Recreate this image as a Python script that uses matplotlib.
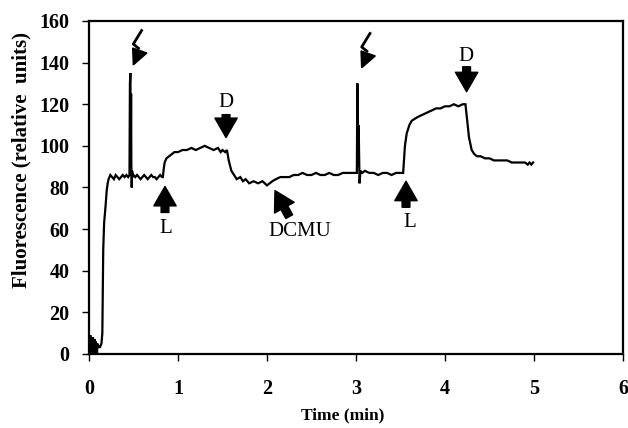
import matplotlib
matplotlib.use("Agg")
import matplotlib.pyplot as plt
from matplotlib.patches import Polygon

# ---- data ----
time_min = [0.000, 0.005, 0.010, 0.015, 0.020, 0.025, 0.030, 0.035, 0.040, 0.045,
            0.050, 0.055, 0.060, 0.065, 0.070, 0.075, 0.080, 0.085, 0.090, 0.095,
            0.100, 0.110, 0.120, 0.130, 0.140, 0.150, 0.160, 0.170, 0.186, 0.200,
            0.210, 0.220, 0.240, 0.260, 0.280, 0.300, 0.320, 0.340, 0.360, 0.380,
            0.400, 0.420, 0.440, 0.455, 0.460, 0.465, 0.470, 0.473, 0.476, 0.480,
            0.485, 0.490, 0.500, 0.520, 0.540, 0.560, 0.580, 0.600, 0.620, 0.640,
            0.660, 0.680, 0.700, 0.720, 0.740, 0.760, 0.780, 0.800, 0.820, 0.830,
            0.840, 0.850, 0.870, 0.900, 0.930, 0.960, 1.000, 1.050, 1.100, 1.150,
            1.200, 1.250, 1.300, 1.350, 1.400, 1.450, 1.480, 1.500, 1.530, 1.550,
            1.570, 1.600, 1.630, 1.660, 1.700, 1.730, 1.760, 1.800, 1.850, 1.900,
            1.950, 2.000, 2.030, 2.060, 2.100, 2.150, 2.200, 2.250, 2.300, 2.350,
            2.400, 2.450, 2.500, 2.550, 2.600, 2.650, 2.700, 2.750, 2.800, 2.850,
            2.900, 2.950, 3.000, 3.010, 3.015, 3.020, 3.025, 3.030, 3.040, 3.050,
            3.070, 3.100, 3.150, 3.200, 3.250, 3.300, 3.350, 3.400, 3.450, 3.500,
            3.530, 3.550, 3.570, 3.600, 3.625, 3.660, 3.700, 3.750, 3.800, 3.850,
            3.900, 3.950, 4.000, 4.050, 4.100, 4.150, 4.200, 4.230, 4.250, 4.270,
            4.300, 4.330, 4.360, 4.400, 4.450, 4.500, 4.550, 4.600, 4.650, 4.700,
            4.750, 4.800, 4.850, 4.900, 4.930, 4.950, 4.970, 4.990]
fluorescence = [0, 8, 0, 9, 1, 8, 0, 7, 2, 8,
                0, 6, 1, 7, 0, 6, 2, 5, 0, 5,
                3, 4, 3, 4, 5, 10, 50, 63, 71, 79,
                82, 84, 86, 85, 84, 86, 85, 84, 85, 86,
                85, 86, 85, 86, 130, 135, 100, 125, 90, 80,
                88, 85, 86, 85, 86, 85, 84, 85, 86, 85,
                84, 85, 86, 85, 85, 84, 85, 86, 85, 85,
                89, 92, 94, 95, 96, 97, 97, 98, 98, 99,
                98, 99, 100, 99, 98, 99, 97, 98, 97, 98,
                93, 88, 86, 84, 85, 83, 84, 82, 83, 82,
                83, 81, 82, 83, 84, 85, 85, 85, 86, 86,
                87, 86, 86, 87, 86, 86, 87, 86, 86, 87,
                87, 87, 87, 87, 130, 125, 90, 110, 82, 88,
                87, 88, 87, 87, 86, 87, 87, 86, 87, 87,
                87, 100, 106, 110, 112, 113, 114, 115, 116, 117,
                118, 118, 119, 119, 120, 119, 120, 120, 112, 104,
                98, 96, 95, 95, 94, 94, 93, 93, 93, 93,
                92, 92, 92, 92, 91, 92, 91, 92]

x_ticks = [0, 1, 2, 3, 4, 5, 6]
y_ticks = [0, 20, 40, 60, 80, 100, 120, 140, 160]

# annotations: (label, arrow tip x, tip y, tail x, tail y, text x, text y)
arrow_notes = [
    ("L", 0.854, 80.5, 0.854, 68.0, 0.86, 60.5),
    ("D", 1.540, 104.0, 1.540, 115.0, 1.54, 120.8),
    ("DCMU", 2.090, 78.5, 2.250, 66.0, 2.37, 59.0),
    ("L", 3.562, 83.0, 3.562, 70.5, 3.60, 63.0),
    ("D", 4.243, 126.0, 4.243, 138.0, 4.24, 143.0),
]
flash_marks = [(0.591, 155.4), (3.157, 154.0)]

# ---- figure ----
serif = ["Liberation Serif", "DejaVu Serif"]
fig = plt.figure(figsize=(6.28, 4.28), dpi=100)
ax = fig.add_axes([0.1417, 0.1729, 0.8503, 0.7781])

ax.plot(time_min, fluorescence, color="black", lw=1.6, solid_joinstyle="miter")

ax.set_xlim(0, 6)
ax.set_ylim(0, 160)
ax.set_xticks(x_ticks)
ax.set_yticks(y_ticks)
for s in ax.spines.values():
    s.set_linewidth(1.6)
ax.tick_params(direction="out", length=5, width=1.0)
ax.tick_params(axis="x", pad=13)
ax.tick_params(axis="y", pad=9)
for lab in ax.get_xticklabels() + ax.get_yticklabels():
    lab.set_fontfamily(serif)
    lab.set_fontweight("bold")
    lab.set_fontsize(14.5)
ax.set_xlabel("Time (min)", family=serif, fontweight="bold", fontsize=12.5, va="center")
ax.xaxis.set_label_coords(0.476, -0.183)
ax.set_ylabel("Fluorescence (relative  units)", family=serif, fontweight="bold",
              fontsize=15)
ax.yaxis.set_label_coords(-0.107, 0.583)

for label, tx, ty, sx, sy, lx, ly in arrow_notes:
    ax.annotate("", xy=(tx, ty), xytext=(sx, sy),
                arrowprops=dict(arrowstyle="simple,head_length=1.0,head_width=1.15,tail_width=0.4",
                                color="black", shrinkA=0, shrinkB=0, mutation_scale=14))
    ax.text(lx, ly, label, family=serif, fontsize=15, ha="center", va="center")

# flash (lightning) symbols
for fx, fy in flash_marks:
    ax.plot([fx, fx - 0.093, fx - 0.035], [fy, fy - 6.5, fy - 8.5], color="black", lw=2.0,
            clip_on=False)
    tri = Polygon([(fx - 0.10, fy - 8.4), (fx + 0.06, fy - 10.8), (fx - 0.093, fy - 16.5)],
                  closed=True, color="black", clip_on=False)
    ax.add_patch(tri)

fig.savefig("out.png", dpi=100)
